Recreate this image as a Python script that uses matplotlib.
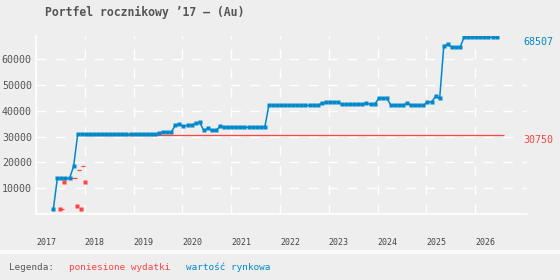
import matplotlib
matplotlib.use("Agg")
import matplotlib.pyplot as plt
from matplotlib.patches import Rectangle
import numpy as np

# dane
lata = [2017, 2018, 2019, 2020, 2021, 2022, 2023, 2024, 2025, 2026]
y_ticks = [10000, 20000, 30000, 40000, 50000, 60000]

# wartosc rynkowa, co miesiac od 2017-05 do 2026-06
wartosc_start = 4  # miesiace od stycznia 2017
wartosc = [
    1800, 13800, 13800, 13800, 13800, 18500, 30900, 30900,                          # 2017
    30900, 30900, 30900, 30900, 30900, 30900, 30900, 30900, 30900, 30900, 30900, 30900,  # 2018
    30900, 30900, 30900, 30900, 30900, 30900, 31300, 31700, 31700, 31700, 34400, 34800,  # 2019
    34000, 34400, 34400, 35200, 35500, 32400, 33200, 32400, 32400, 34000, 33600, 33600,  # 2020
    33600, 33600, 33600, 33600, 33600, 33600, 33600, 33600, 33600, 42100, 42100, 42100,  # 2021
    42100, 42100, 42100, 42100, 42100, 42100, 42100, 42100, 42100, 42100, 42900, 43300,  # 2022
    43300, 43300, 43300, 42500, 42500, 42500, 42500, 42500, 42500, 42900, 42500, 42500,  # 2023
    44800, 44800, 44800, 42200, 42200, 42200, 42200, 42900, 42100, 42100, 42100, 42100,  # 2024
    43400, 43400, 45600, 44800, 65000, 65800, 64600, 64600, 64600, 68507, 68507, 68507,  # 2025
    68507, 68507, 68507, 68507, 68507, 68507,                                         # 2026
]

# poniesione wydatki: pojedyncze zakupy i suma narastajaco
zakupy_mies = [6, 7, 10, 11, 12]
zakupy = [1800, 12300, 3000, 1800, 12500]
suma = [1800, 13900, 16900, 18500, 30750]
wydatki_koniec = 115

niebieski = '#0088cc'
czerwony = '#ff4444'
szary = '#555555'
tlo = '#eeeeee'

plt.rcParams['font.family'] = ['DejaVu Sans Mono']

fig = plt.figure(figsize=(5.6, 2.8), dpi=100, facecolor=tlo)
W, H = 560, 280
ax = fig.add_axes([36 / W, 1 - 214 / H, (527 - 36) / W, (214 - 36) / H])
ax.set_facecolor(tlo)

x_w = 2017 + (np.arange(len(wartosc)) + wartosc_start + 0.25) / 12
x_z = 2017 + np.array(zakupy_mies) / 12
konce = np.append(x_z[1:], 2017 + wydatki_koniec / 12)

ax.hlines(suma, x_z, konce, color=czerwony, lw=0.9, zorder=2)
ax.plot(x_z, zakupy, ls='none', marker='s', ms=3, color=czerwony, mec='none', zorder=2)
ax.plot(x_w, wartosc, color=niebieski, lw=1.1, marker='s', ms=2.8, mec='none', zorder=3)

ax.set_xlim(2017, 2027.06)
ax.set_ylim(0, 69000)

ax.set_xticks(lata)
ax.set_xticklabels([str(r) for r in lata], ha='left', fontsize=6, color='#444444')
ax.set_yticks(y_ticks)
ax.set_yticklabels([str(v) for v in y_ticks], fontsize=7.2, color=szary)
ax.tick_params(axis='x', length=0, pad=17)
ax.tick_params(axis='y', length=0, pad=3)

ax.grid(True, color='white', lw=1.0, ls=(0, (7, 7)), zorder=1)
ax.set_axisbelow(True)
for s in ['top', 'right']:
    ax.spines[s].set_visible(False)
for s in ['left', 'bottom']:
    ax.spines[s].set_color('white')
    ax.spines[s].set_linewidth(1.2)

ax.text(2026.98, wartosc[-1], str(wartosc[-1]), color=niebieski, fontsize=7.2,
        va='top', ha='left', clip_on=False)
ax.text(2026.98, suma[-1], str(suma[-1]), color=czerwony, fontsize=7.2,
        va='top', ha='left', clip_on=False)

# tytul i legenda
fig.text(45 / W, 1 - 12 / H, 'Portfel rocznikowy ’17 – (Au)', fontsize=8.3,
         fontweight='bold', color=szary, va='center')
fig.patches.append(Rectangle((0, 1 - 254 / H), 1, 4 / H, transform=fig.transFigure,
                             facecolor='#fafafa', edgecolor='none'))
fig.text(9 / W, 1 - 267 / H, 'Legenda:', fontsize=6.7, color=szary, va='center')
fig.text(69 / W, 1 - 267 / H, 'poniesione wydatki', fontsize=6.7, color=czerwony, va='center')
fig.text(186 / W, 1 - 267 / H, 'wartość rynkowa', fontsize=6.7, color=niebieski, va='center')

fig.savefig('out.png', dpi=100, facecolor=tlo)
